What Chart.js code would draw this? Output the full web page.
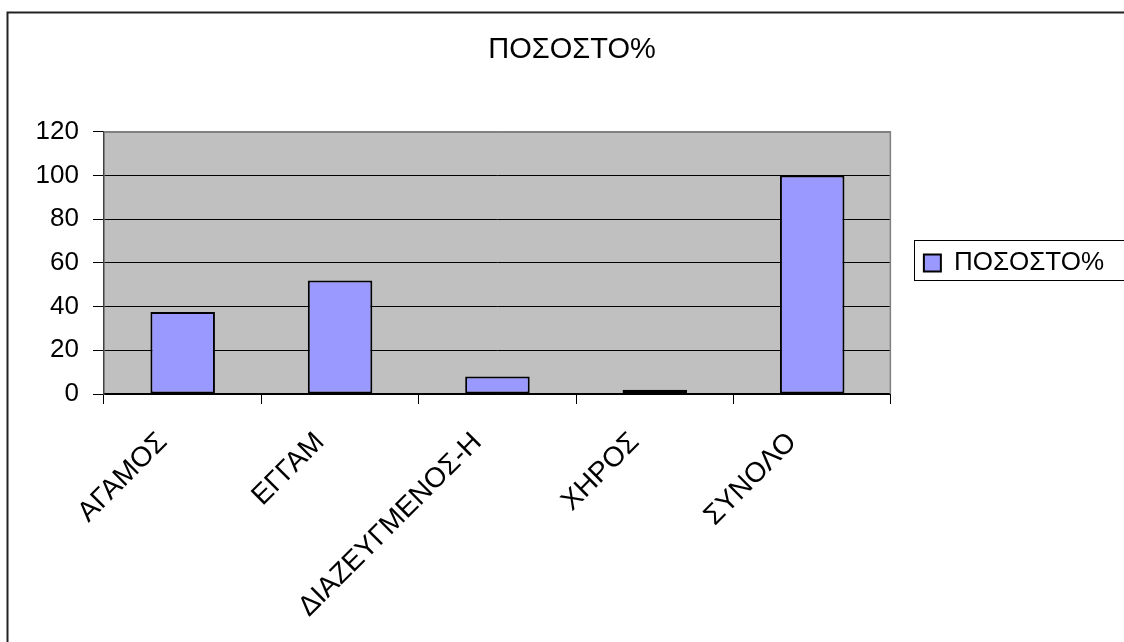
<!DOCTYPE html>
<html>

<head>
  <meta charset="UTF-8">
  <script src="https://cdn.jsdelivr.net/npm/chart.js"></script>
  <style>
    body { margin: 0; background: #fff; }
  </style>
</head>

<body>
  <canvas id="myChart" width="1124" height="642"></canvas>
  <script>
    const chartTitle = 'ΠΟΣΟΣΤΟ%';
    const seriesName = 'ΠΟΣΟΣΤΟ%';
    const categories = ['ΑΓΑΜΟΣ', 'ΕΓΓΑΜ', 'ΔΙΑΖΕΥΓΜΕΝΟΣ-Η', 'ΧΗΡΟΣ', 'ΣΥΝΟΛΟ'];
    const percentages = [37.5, 52, 8, 2, 100];
    const yMin = 0;
    const yMax = 120;
    const yStep = 20;

    const font = 'Liberation Sans, Arial, sans-serif';

    // grey plot background, outer frame and a box round the legend
    const excelLook = {
      id: 'excelLook',
      beforeDraw(chart) {
        const ctx = chart.ctx;
        const a = chart.chartArea;
        ctx.save();
        ctx.fillStyle = '#fff';
        ctx.fillRect(0, 0, chart.width, chart.height);
        ctx.strokeStyle = '#222';
        ctx.lineWidth = 2;
        ctx.strokeRect(7.5, 12.5, chart.width + 20, chart.height + 20);
        ctx.fillStyle = '#c0c0c0';
        ctx.fillRect(a.left, a.top, a.right - a.left, a.bottom - a.top);
        ctx.restore();
      },
      beforeDatasetsDraw(chart) {
        const ctx = chart.ctx;
        const a = chart.chartArea;
        ctx.save();
        ctx.strokeStyle = '#808080';
        ctx.lineWidth = 1.5;
        ctx.beginPath();
        ctx.moveTo(a.left, a.top + 0.5);
        ctx.lineTo(a.right - 0.5, a.top + 0.5);
        ctx.lineTo(a.right - 0.5, a.bottom);
        ctx.stroke();
        ctx.restore();
      },
      afterDraw(chart) {
        const hit = chart.legend.legendHitBoxes[0];
        if (!hit) return;
        const ctx = chart.ctx;
        const cy = hit.top + hit.height / 2;
        ctx.save();
        ctx.strokeStyle = '#000';
        ctx.lineWidth = 1;
        ctx.strokeRect(Math.round(hit.left - 10) + 0.5, Math.round(cy - 23) + 0.5, 400, 40);
        ctx.restore();
      }
    };

    new Chart(document.getElementById('myChart'), {
      type: 'bar',
      data: {
        labels: categories,
        datasets: [{
          label: seriesName,
          data: percentages,
          backgroundColor: '#9999ff',
          borderColor: '#000',
          borderWidth: 2,
          borderSkipped: false,
          categoryPercentage: 1,
          barPercentage: 0.41
        }]
      },
      options: {
        responsive: false,
        animation: false,
        layout: { padding: { left: 30, right: 10, top: 0, bottom: 0 } },
        plugins: {
          title: {
            display: true,
            text: chartTitle,
            color: '#000',
            font: { family: font, size: 29, weight: 'normal' },
            padding: { top: 33, bottom: 64 }
          },
          legend: {
            position: 'right',
            fullSize: false,
            labels: {
              color: '#000',
              font: { family: font, size: 26 },
              boxWidth: 17,
              boxHeight: 17,
              padding: 33
            }
          },
          tooltip: { enabled: false }
        },
        scales: {
          x: {
            grid: {
              drawOnChartArea: false,
              color: '#000',
              tickLength: 10
            },
            border: { color: '#000', width: 1.5 },
            ticks: {
              color: '#000',
              font: { family: font, size: 28 },
              minRotation: 45,
              maxRotation: 45,
              autoSkip: false,
              padding: 22,
              labelOffset: -20
            },
            afterFit(scale) { scale.height = 248; }
          },
          y: {
            min: yMin,
            max: yMax,
            ticks: {
              stepSize: yStep,
              color: '#000',
              padding: 14,
              font: { family: font, size: 26 }
            },
            grid: {
              color: c => (c.tick && c.tick.value === yMax ? '#808080' : '#000'),
              tickColor: '#000',
              tickLength: 11
            },
            border: { color: '#404040', width: 1.5 },
            afterFit(scale) { scale.width = 74; }
          }
        }
      },
      plugins: [excelLook]
    });
  </script>
</body>

</html>
